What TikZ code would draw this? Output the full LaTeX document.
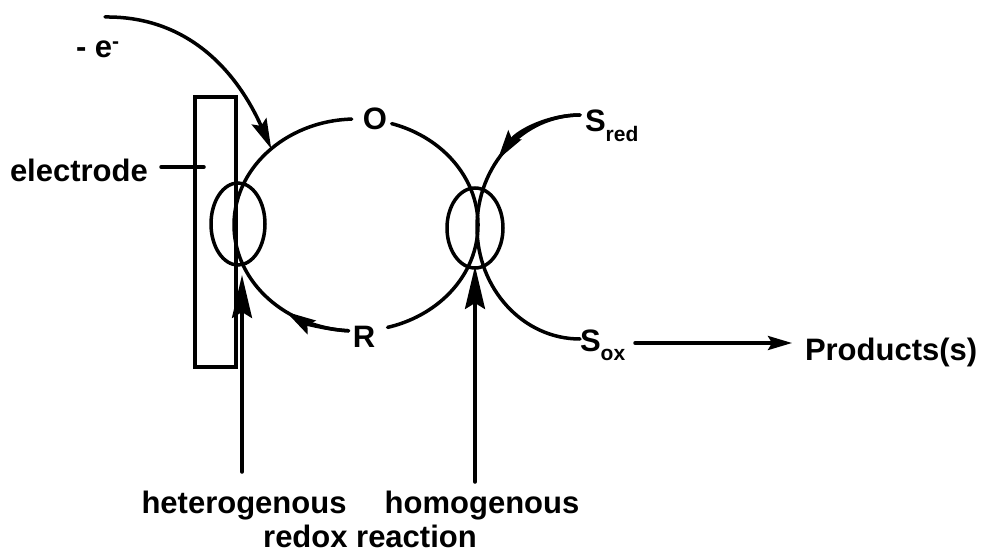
\documentclass[tikz,border=0pt]{standalone}
\usepackage{fontspec}
\setmainfont{Liberation Sans}
\usetikzlibrary{arrows.meta,shapes.geometric}
\begin{document}
\begin{tikzpicture}[x=1pt,y=1pt,line width=3.5pt,line cap=round,
  lbl/.style={font=\fontsize{31}{34}\selectfont\bfseries, inner sep=0pt, outer sep=0pt},
  bigtip/.style={-{Stealth[length=43pt,width=20pt,inset=6pt]}},
  medtip/.style={-{Stealth[length=30pt,width=16pt,inset=5pt]}},
  smalltip/.style={-{Stealth[length=24pt,width=14pt,inset=4pt]}},
  ring/.style={draw, ellipse, inner sep=0pt, outer sep=0pt}]
\useasboundingbox (0,0) rectangle (982,-553);

% electrode
\node[draw, line width=3.2pt, line cap=butt, minimum width=41pt, minimum height=270pt, inner sep=0pt] (elec) at (215.5,-232) {};
\node[lbl, anchor=base west] (elecLbl) at (10,-182) {electrode};
\coordinate (tickA) at (161,-167);
\coordinate (tickB) at (204,-167);
\draw (tickA) -- (tickB);

% O / R cycle
\coordinate (cyc) at (356,-225);
\draw ([shift={(92:122pt and 106pt)}]cyc) arc[start angle=92, end angle=266.5, x radius=122pt, y radius=106pt];
\draw ([shift={(73:122pt and 106pt)}]cyc) arc[start angle=73, end angle=-75, x radius=122pt, y radius=106pt];
\draw[medtip] ([shift={(266.5:122pt and 106pt)}]cyc) arc[start angle=266.5, end angle=235, x radius=122pt, y radius=106pt];
\node[lbl, anchor=base] (O) at (375,-130) {O};
\node[lbl, anchor=base] (R) at (364,-347) {R};

% S cycle
\coordinate (scyc) at (580,-227);
\draw ([shift={(90:103pt and 112pt)}]scyc) arc[start angle=90, end angle=270, x radius=103pt, y radius=112pt];
\draw[medtip] ([shift={(90:103pt and 112pt)}]scyc) arc[start angle=90, end angle=143, x radius=103pt, y radius=112pt];
\node[lbl, anchor=base west] (sred) at (585,-132) {S\raisebox{-10pt}{\fontsize{21}{21}\selectfont red}};
\node[lbl, anchor=base west] (sox) at (580,-351) {S\raisebox{-9pt}{\fontsize{21}{21}\selectfont ox}};
\node[lbl, anchor=base west] (prod) at (805,-360) {Products(s)};
\coordinate (soxEnd) at (635,-343);
\coordinate (prodStart) at (792,-343);
\draw[smalltip] (soxEnd) -- (prodStart);

% electron loss
\node[lbl, anchor=base west] (eloss) at (76,-58) {- e\raisebox{9pt}{\fontsize{21}{21}\selectfont -}};
\coordinate (eStart) at (105,-17);
\coordinate (eTip) at ([shift={(134:122pt and 106pt)}]cyc);
\draw[medtip] (eStart) .. controls (190,-16) and (238,-74) .. (eTip);

% reaction zones
\node[ring, minimum width=54pt, minimum height=82pt] (hetRing) at (238,-224) {};
\node[ring, minimum width=56pt, minimum height=80pt] (homRing) at (475,-228) {};
\coordinate (hetBot) at (242,-472);
\coordinate (hetTip) at (242,-275);
\draw[bigtip] (hetBot) -- (hetTip);
\coordinate (homBot) at (475,-482);
\coordinate (homTip) at (475,-266);
\draw[bigtip] (homBot) -- (homTip);

\node[lbl, anchor=base] (het) at (244,-513) {heterogenous};
\node[lbl, anchor=base] (hom) at (482,-513) {homogenous};
\node[lbl, anchor=base] (redox) at (370,-547) {redox reaction};
\end{tikzpicture}
\end{document}
